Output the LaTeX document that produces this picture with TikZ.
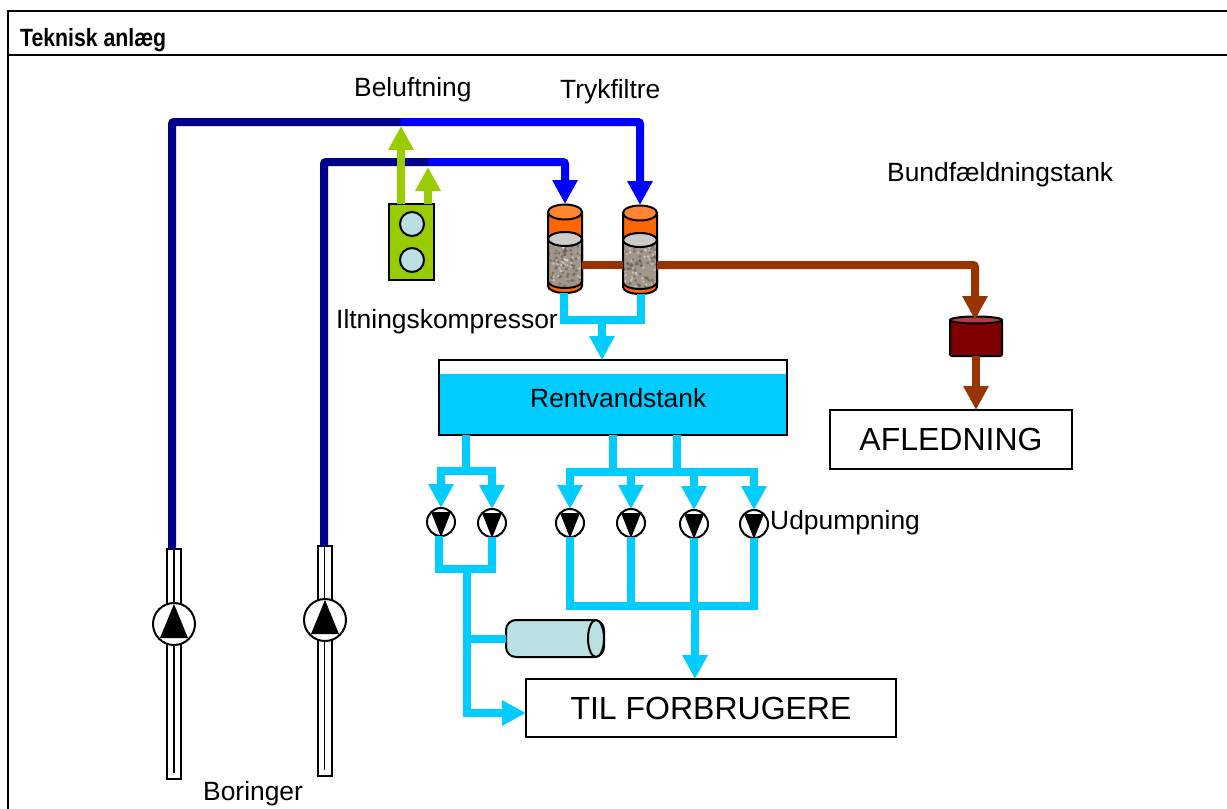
\documentclass[tikz,border=0pt]{standalone}
\usepackage{fontspec}
\setmainfont{Liberation Sans}
\newfontfamily\headfont[FakeStretch=0.85]{Liberation Sans}
\usepackage{tikz}
\usetikzlibrary{arrows.meta}

\definecolor{darkpipe}{HTML}{00008C}
\definecolor{bluepipe}{HTML}{0000FF}
\definecolor{cyanpipe}{HTML}{00CCFF}
\definecolor{greenpipe}{HTML}{99CC00}
\definecolor{brownpipe}{HTML}{993300}
\definecolor{paleblue}{HTML}{BBE0E3}
\definecolor{tankorange}{HTML}{FF6600}
\definecolor{tanktop}{HTML}{FF8533}
\definecolor{stone}{HTML}{A2968A}

\tikzset{
  pipe/.style={line width=8pt,rounded corners=2pt},
  arrowpipe/.style={pipe,-{Triangle[length=24pt,width=24pt]}},
  txt/.style={anchor=base west,inner sep=0pt,font=\fontsize{26.4}{26.4}\selectfont},
  bigbox/.style={draw,line width=2pt,fill=white,inner sep=0pt,outer sep=0pt},
  bigtxt/.style={font=\fontsize{32}{32}\selectfont},
  pumpsmall/.style={circle,draw,line width=2pt,fill=white,inner sep=0pt,outer sep=0pt,minimum size=28pt},
  pumpbig/.style={circle,draw,line width=2pt,fill=white,inner sep=0pt,outer sep=0pt,minimum size=42pt},
  tube/.style={draw,line width=2pt,fill=white,inner sep=0pt,outer sep=0pt,minimum width=14pt,minimum height=230pt},
  outline/.style={draw=black,line width=2pt}
}

\newcommand{\downpump}[3]{
\node[pumpsmall] (#1) at (#2,#3) {};
\fill (#2-10,#3-10) -- (#2+10,#3-10) -- (#2,#3+15) -- cycle;
}

\newcommand{\uppump}[3]{
\node[pumpbig] (#1) at (#2,#3) {};
\fill (#2-14,#3+14) -- (#2+14,#3+14) -- (#2,#3-20) -- cycle;
}

\newcommand{\filtertank}[3]{
\node[inner sep=0pt,outer sep=0pt,minimum width=34pt,minimum height=89pt] (#1) at (#2,#3+248.5) {};
\begin{scope}[shift={(#2,#3)}]
\draw[outline,fill=tankorange] (-17,212) -- (-17,286) arc[start angle=180,end angle=360,x radius=17pt,y radius=7pt] -- (17,212) -- cycle;
\draw[outline,fill=tanktop] (0,212) ellipse [x radius=17pt,y radius=7.5pt];
\begin{scope}
\clip (-17,239) -- (-17,281.5) arc[start angle=180,end angle=360,x radius=17pt,y radius=6.5pt] -- (17,239) -- cycle;
\fill[stone] (-17,230) rectangle (17,290);
\foreach \i in {1,...,110}{
\pgfmathsetmacro{\sx}{-17+34*rnd}
\pgfmathsetmacro{\sy}{239+50*rnd}
\pgfmathsetmacro{\sg}{int(100*rnd)}
\ifnum\sg<45
\fill[white!60!stone,opacity=.7] (\sx,\sy) circle (1.3pt);
\else
\fill[black!40!stone,opacity=.6] (\sx,\sy) circle (1.6pt);
\fi
}
\end{scope}
\draw[outline] (-17,239) -- (-17,281.5) arc[start angle=180,end angle=360,x radius=17pt,y radius=6.5pt] -- (17,239);
\draw[outline,fill=black!20] (0,239) ellipse [x radius=17pt,y radius=7pt];
\end{scope}
}

\begin{document}
\begin{tikzpicture}[x=1pt,y=-1pt]

\useasboundingbox (0,0) rectangle (1227,809);

\coordinate (ftl) at (8,11);
\coordinate (ftr) at (1227,11);
\coordinate (fbl) at (8,809);
\coordinate (fhl) at (8,55);
\coordinate (fhr) at (1227,55);

\draw[line width=2pt] (fbl) -- (ftl) -- (ftr);
\draw[line width=2pt] (fhl) -- (fhr);

\node[anchor=base west,inner sep=0pt,font=\headfont\fontsize{25}{25}\selectfont\bfseries] (head) at (20,46) {Teknisk anlæg};

\node[tube] (t1) at (174,664) {};
\node[tube] (t2) at (324.5,661) {};

\coordinate (t1low) at (174,773);
\coordinate (t2low) at (324.5,770);

\draw[line width=1.4pt] (t1.north) -- (t1low);
\draw[line width=1.4pt] (t2.north) -- (t2low);

\uppump{u1}{174}{624}
\uppump{u2}{325}{620}

\coordinate (c1) at (172,122);
\coordinate (j1) at (401,122);
\coordinate (c2) at (324,162);
\coordinate (j2) at (428,162);
\coordinate (c3) at (640,122);
\coordinate (c4) at (565,162);

\filtertank{f1}{565}{0}
\filtertank{f2}{640}{1}

\draw[pipe,darkpipe] (t1.north -| c1) -- (c1) -- (j1);
\draw[pipe,darkpipe] (t2.north -| c2) -- (c2) -- (j2);
\draw[arrowpipe,bluepipe] (j1) -- (c3) -- (f2.north);
\draw[arrowpipe,bluepipe] (j2) -- (c4) -- (f1.north);

\node[draw,line width=2pt,fill=greenpipe,inner sep=0pt,outer sep=0pt,minimum width=45pt,minimum height=76pt] (k) at (411.5,242) {};
\node[circle,draw,line width=2pt,fill=paleblue,inner sep=0pt,minimum size=24pt] (k1) at (412,224) {};
\node[circle,draw,line width=2pt,fill=paleblue,inner sep=0pt,minimum size=24pt] (k2) at (412,260) {};

\draw[arrowpipe,greenpipe] (k.north -| j1) -- ++(0,-78);
\draw[arrowpipe,greenpipe] (k.north -| j2) -- ++(0,-37);

\coordinate (b1) at (975,265);
\coordinate (b2) at (657,265);

\node[draw,line width=2pt,fill=black!50!red,rounded corners=2pt,inner sep=0pt,outer sep=0pt,minimum width=52pt,minimum height=36pt] (bund) at (976,338) {};
\draw[line width=2pt,fill=red!60!black!75!white] (bund.north) ellipse [x radius=26pt,y radius=3.5pt];

\node[bigbox,bigtxt,minimum width=242pt,minimum height=59pt] (afl) at (951,439.5) {AFLEDNING};

\draw[pipe,brownpipe] (f1.east |- b2) -- (f2.west |- b2);
\draw[arrowpipe,brownpipe] (b2) -- (b1) -- (bund.north -| b1);
\draw[arrowpipe,brownpipe] (bund.south) -- (bund.south |- afl.north);

\node[draw,line width=2pt,fill=white,inner sep=0pt,outer sep=0pt,minimum width=348pt,minimum height=75pt] (rent) at (613,397.5) {};
\fill[cyanpipe] (439,374) rectangle (787,435);
\draw[line width=2pt] (rent.south west) rectangle (rent.north east);

\coordinate (e1) at (564,320);
\coordinate (e2) at (641,320);
\coordinate (e3) at (602,320);

\draw[pipe,cyanpipe,rounded corners=0pt] (f1.south -| e1) -- (e1) -- (e2) -- (f2.south -| e2);
\draw[arrowpipe,cyanpipe] (e3) -- (e3 |- rent.north);

\downpump{p1}{441}{522}
\downpump{p2}{492}{523}
\downpump{p3}{570}{523}
\downpump{p4}{631}{523}
\downpump{p5}{694}{524}
\downpump{p6}{754}{524}

\coordinate (g1) at (441,471);
\coordinate (g2) at (492,471);
\coordinate (g3) at (466,471);
\coordinate (h1) at (570,472);
\coordinate (h2) at (631,472);
\coordinate (h3) at (694,472);
\coordinate (h4) at (754,472);
\coordinate (h5) at (613,472);
\coordinate (h6) at (677,472);

\draw[pipe,cyanpipe] (rent.south -| g3) -- (g3);
\draw[pipe,cyanpipe] (rent.south -| h5) -- (h5);
\draw[pipe,cyanpipe] (rent.south -| h6) -- (h6);
\draw[arrowpipe,cyanpipe,rounded corners=0pt] (g3) -- (g1) -- (p1);
\draw[arrowpipe,cyanpipe,rounded corners=0pt] (g3) -- (g2) -- (p2);
\draw[arrowpipe,cyanpipe,rounded corners=0pt] (h5) -- (h1) -- (p3);
\draw[arrowpipe,cyanpipe] (h2) -- (p4);
\draw[arrowpipe,cyanpipe] (h3) -- (p5);
\draw[arrowpipe,cyanpipe,rounded corners=0pt] (h6) -- (h4) -- (p6);
\draw[pipe,cyanpipe,rounded corners=0pt] (h5) -- (h6);

\node[bigbox,bigtxt,minimum width=370pt,minimum height=58pt] (til) at (711,708) {TIL FORBRUGERE};

\node[draw,line width=2pt,fill=paleblue,rounded corners=10pt,inner sep=0pt,outer sep=0pt,minimum width=98pt,minimum height=37pt] (acc) at (555,638.5) {};
\draw[line width=2pt,fill=paleblue] (596,638.5) ellipse [x radius=8pt,y radius=18.5pt];

\coordinate (m1) at (439,569);
\coordinate (m2) at (492,569);
\coordinate (m3) at (467,569);
\coordinate (m4) at (467,638.5);
\coordinate (m5) at (467,713);
\coordinate (n1) at (570,606);
\coordinate (n2) at (631,606);
\coordinate (n3) at (695,606);
\coordinate (n4) at (754,606);

\draw[pipe,cyanpipe,rounded corners=0pt] (p1.south -| m1) -- (m1) -- (m2) -- (p2.south);
\draw[arrowpipe,cyanpipe,rounded corners=0pt] (m3) -- (m5) -- (til.west |- m5);
\draw[pipe,cyanpipe] (m4) -- (acc);
\draw[pipe,cyanpipe,rounded corners=0pt] (p3.south) -- (n1) -- (n4) -- (p6.south);
\draw[pipe,cyanpipe] (p4.south) -- (n2);
\draw[pipe,cyanpipe] (p5.south) -- (p5.south |- n3);
\draw[arrowpipe,cyanpipe] (n3) -- (n3 |- til.north);

\node[txt] (l1) at (354,96) {Beluftning};
\node[txt] (l2) at (560,98) {Trykfiltre};
\node[txt] (l3) at (887,181) {Bundfældningstank};
\node[txt] (l4) at (336,328) {Iltningskompressor};
\node[txt] (l5) at (530,407) {Rentvandstank};
\node[txt] (l6) at (770,529) {Udpumpning};
\node[txt] (l7) at (203,800) {Boringer};

\end{tikzpicture}
\end{document}
